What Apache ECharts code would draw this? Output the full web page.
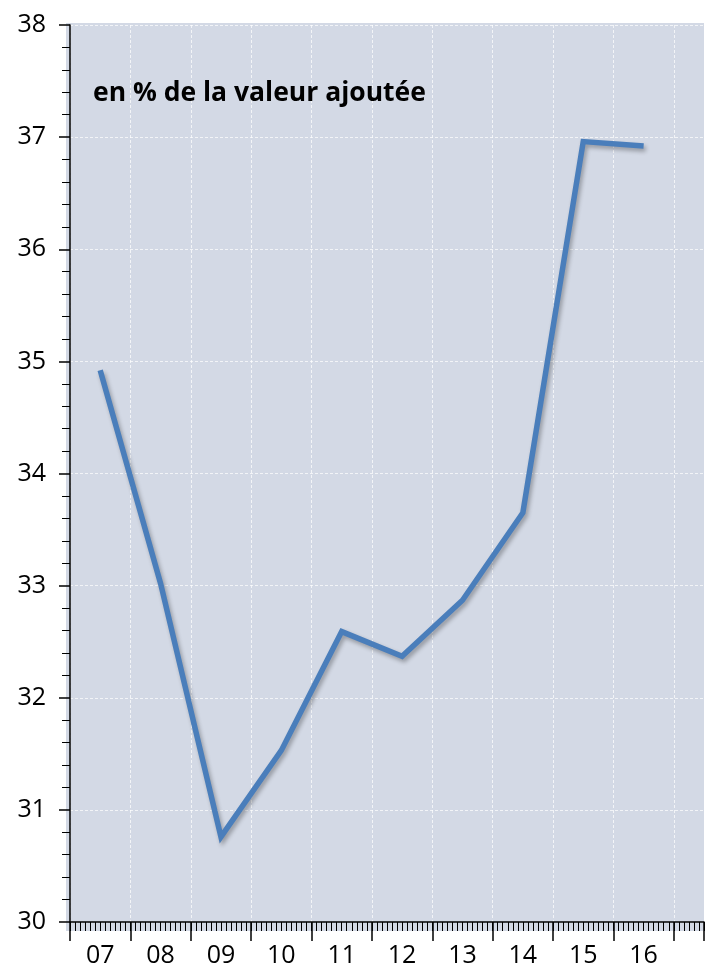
<!DOCTYPE html>
<html>
<head>
<meta charset="utf-8">
<script src="https://cdn.jsdelivr.net/npm/echarts@6/dist/echarts.min.js"></script>
<style>
  html, body { margin: 0; padding: 0; background: #fff; }
  #chart { width: 707px; height: 972px; }
</style>
</head>
<body>
<div id="chart"></div>
<script>
// années (milieu d'année) et valeurs
var years = [2007, 2008, 2009, 2010, 2011, 2012, 2013, 2014, 2015, 2016];
var values = [34.92, 33.02, 30.76, 31.53, 32.59, 32.37, 32.87, 33.65, 36.96, 36.92];
var yTicks = [30, 31, 32, 33, 34, 35, 36, 37, 38];
var titleText = "en % de la valeur ajoutée";

var FONT = "Open Sans";

var chart = echarts.init(document.getElementById("chart"));

// points placés au milieu de chaque année
var lineData = [];
for (var i = 0; i < years.length; i++) {
  lineData.push([years[i] + 0.5, values[i]]);
}
var labelPos = years.map(function (y) { return y + 0.5; });

var option = {
  animation: false,
  title: {
    text: titleText,
    left: 93,
    top: 80,
    padding: 0,
    textStyle: { fontFamily: FONT, fontSize: 26.5, fontWeight: "bold", color: "#000" }
  },
  graphic: [
    {
      type: "rect",
      z: -10,
      shape: { x: 66, y: 23, width: 638, height: 908 },
      style: { fill: "#d3d9e5" }
    }
  ],
  grid: { left: 70, right: 3, top: 25, bottom: 50 },
  xAxis: [
    {
      type: "value",
      min: 2007,
      max: 2017.5,
      interval: 1,
      axisLine: { show: true, onZero: false, lineStyle: { color: "#000", width: 1.5 } },
      axisTick: { show: true, length: 19, lineStyle: { color: "#000", width: 1.5 } },
      axisLabel: {
        customValues: labelPos,
        margin: 21,
        fontFamily: FONT,
        fontSize: 25,
        color: "#000",
        formatter: function (v) {
          var n = Math.floor(v) % 100;
          return (n < 10 ? "0" : "") + n;
        }
      },
      splitLine: { show: true, lineStyle: { color: "rgba(255,255,255,0.7)", type: [3, 2], width: 1 } }
    },
    {
      type: "value",
      position: "bottom",
      min: 2007,
      max: 2017.5,
      interval: 1 / 12,
      axisLine: { show: false, onZero: false },
      axisTick: { show: true, length: 9, lineStyle: { color: "#000", width: 1 } },
      axisLabel: { show: false },
      splitLine: { show: false }
    }
  ],
  yAxis: {
    type: "value",
    min: yTicks[0],
    max: yTicks[yTicks.length - 1],
    interval: 1,
    axisLine: { show: true, lineStyle: { color: "#000", width: 1.5 } },
    axisTick: { show: true, length: 11, lineStyle: { color: "#000", width: 1.5 } },
    minorTick: { show: true, splitNumber: 5, length: 8, lineStyle: { color: "#000", width: 1 } },
    axisLabel: { margin: 24, fontFamily: FONT, fontSize: 25, color: "#000" },
    splitLine: { show: true, lineStyle: { color: "rgba(255,255,255,0.7)", type: [3, 2], width: 1 } }
  },
  series: [
    {
      type: "line",
      xAxisIndex: 0,
      data: lineData,
      symbol: "none",
      lineStyle: {
        color: "#4a7ebb",
        width: 5.5,
        join: "miter",
        shadowColor: "rgba(0,0,0,0.3)",
        shadowBlur: 4,
        shadowOffsetX: 2,
        shadowOffsetY: 3
      }
    }
  ]
};

chart.setOption(option);
</script>
</body>
</html>
